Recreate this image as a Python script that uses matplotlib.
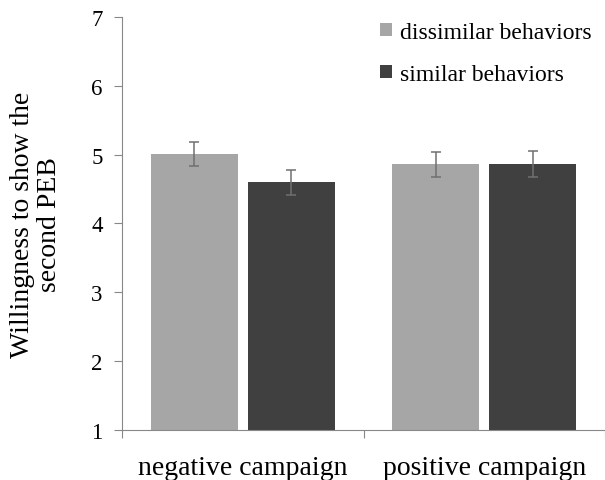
import matplotlib.pyplot as plt
import numpy as np

plt.rcParams['font.family'] = ['Liberation Serif', 'DejaVu Serif']

campaigns = ['negative campaign', 'positive campaign']
series = ['dissimilar behaviors', 'similar behaviors']
means_dissimilar = [5.01, 4.86]
means_similar = [4.60, 4.86]
err_dissimilar = [0.18, 0.18]
err_similar = [0.18, 0.19]
colors = ['#a6a6a6', '#404040']

fig = plt.figure(figsize=(6.05, 4.81), dpi=100)
ax = fig.add_axes([0.2017, 0.104, 0.7983, 0.8586])

x = np.arange(len(campaigns)) + 0.5
w = 0.36
ax.bar(x - 0.2, means_dissimilar, w, bottom=0, color=colors[0], label=series[0],
       yerr=err_dissimilar, ecolor='#707070', capsize=3.5, error_kw={'elinewidth': 1.1, 'capthick': 1.1})
ax.bar(x + 0.2, means_similar, w, bottom=0, color=colors[1], label=series[1],
       yerr=err_similar, ecolor='#707070', capsize=3.5, error_kw={'elinewidth': 1.1, 'capthick': 1.1})

ax.set_xlim(0, 2)
ax.set_ylim(1, 7)
ax.set_yticks(range(1, 8))
ax.set_xticks([0, 1, 2])
ax.set_xticklabels([])
ax.set_xticks(x, minor=True)
ax.set_xticklabels(campaigns, minor=True, fontsize=20)
ax.tick_params(axis='x', which='minor', length=0, pad=18)
ax.tick_params(axis='x', which='major', length=6, color='#888888', direction='out')
ax.tick_params(axis='y', length=6, color='#888888', labelsize=16.5, pad=8)

for s in ['top', 'right']:
    ax.spines[s].set_visible(False)
ax.spines['left'].set_color('#888888')
ax.spines['bottom'].set_color('#888888')

ax.set_ylabel('Willingness to show the\nsecond PEB', fontsize=20, labelpad=21, linespacing=1.08)

ax.legend(loc='upper left', bbox_to_anchor=(0.49, 1.04), frameon=False, fontsize=17,
          handlelength=0.5, handleheight=0.5, handletextpad=0.35, labelspacing=0.9)

fig.savefig('out.png', dpi=100)
